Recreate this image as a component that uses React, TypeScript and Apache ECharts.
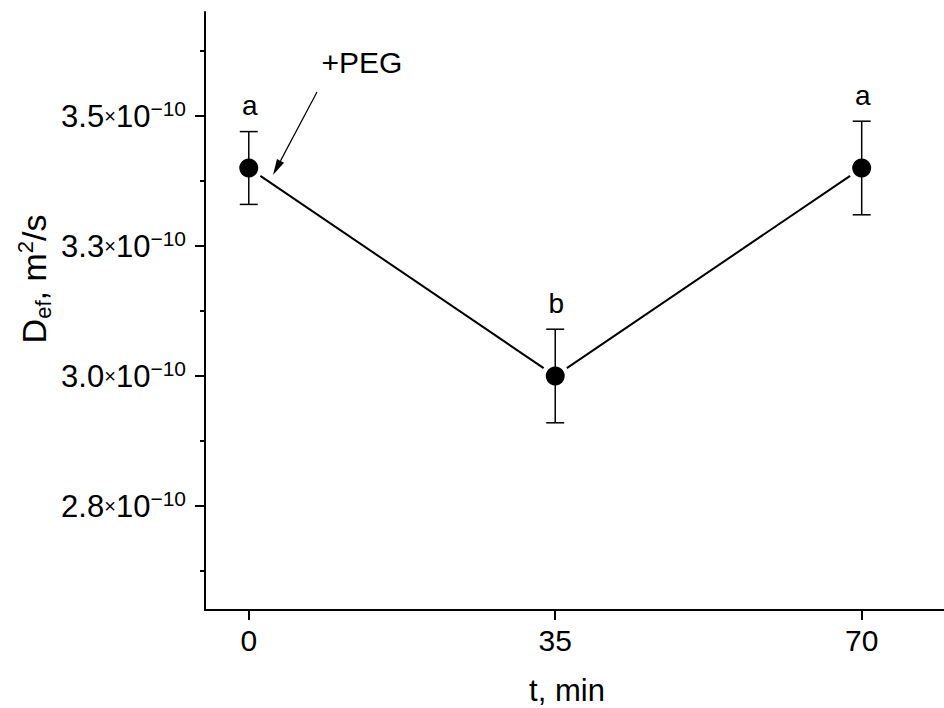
import React, { useEffect, useRef } from "react";
import * as echarts from "echarts";

// Data (D_ef in units of 1e-10 m²/s)
const times = [0, 35, 70];
const dValues = [3.4, 3.0, 3.4];
const dErrors = [0.07, 0.09, 0.09];
const groupLabels = ["a", "b", "a"];
const xTicks = [0, 35, 70];
const yMajorTicks = [2.75, 3.0, 3.25, 3.5];
const yMinorTicks = [2.625, 2.875, 3.125, 3.375, 3.625];

const FONT = "'Liberation Sans', Arial, sans-serif";

export default function App() {
  const ref = useRef<HTMLDivElement>(null);

  useEffect(() => {
    document.body.style.margin = "0";
    const chart = echarts.init(ref.current!, null, { renderer: "svg" });

    const points = times.map((t, i) => [t, dValues[i]]);
    const errData = times.map((t, i) => [t, dValues[i], dErrors[i]]);
    const segData = times.slice(0, -1).map((t, i) => [t, dValues[i], times[i + 1], dValues[i + 1]]);

    // arrow annotation
    const aStart = [317, 92];
    const aTip = [273, 175];
    const dx = aTip[0] - aStart[0];
    const dy = aTip[1] - aStart[1];
    const len = Math.hypot(dx, dy);
    const ux = dx / len, uy = dy / len;
    const headLen = 16, headHalf = 4;
    const base = [aTip[0] - ux * headLen, aTip[1] - uy * headLen];
    const px = -uy * headHalf, py = ux * headHalf;

    chart.setOption({
      animation: false,
      backgroundColor: "#ffffff",
      grid: { left: 205, right: 0, top: 12, bottom: 98 },
      xAxis: {
        type: "value",
        min: -5,
        max: 79.4,
        axisLine: { show: true, onZero: false, lineStyle: { color: "#000", width: 2 } },
        axisTick: { show: true, inside: false, length: 10, customValues: xTicks, lineStyle: { color: "#000", width: 2 } },
        axisLabel: { customValues: xTicks, margin: 15, fontSize: 30, color: "#000", fontFamily: FONT },
        splitLine: { show: false },
      },
      yAxis: [
        {
          type: "value",
          position: "left",
          min: 2.55,
          max: 3.7,
          axisLine: { show: true, onZero: false, lineStyle: { color: "#000", width: 2 } },
          axisTick: { show: true, inside: false, length: 10, customValues: yMajorTicks, lineStyle: { color: "#000", width: 2 } },
          axisLabel: {
            customValues: yMajorTicks,
            margin: 19,
            formatter: (v: number) => `{m|${v.toFixed(1)}}{x|×}{m|10}{s|−10}`,
            rich: {
              m: { fontSize: 31, fontFamily: FONT, color: "#000", lineHeight: 36 },
              x: { fontSize: 20, fontFamily: FONT, color: "#000", lineHeight: 36 },
              s: { fontSize: 21, fontFamily: FONT, color: "#000", lineHeight: 21, verticalAlign: "top" },
            },
          },
          splitLine: { show: false },
        },
        {
          type: "value",
          position: "left",
          min: 2.55,
          max: 3.7,
          axisLine: { show: false, onZero: false },
          axisTick: { show: true, inside: false, length: 5, customValues: yMinorTicks, lineStyle: { color: "#000", width: 2 } },
          axisLabel: { show: false },
          splitLine: { show: false },
        },
      ],
      graphic: [
        {
          type: "text",
          x: 34,
          y: 279,
          rotation: Math.PI / 2,
          style: {
            text: "{d|D}{sub|ef}{d|, m}{sup|2}{d|/s}",
            align: "center",
            verticalAlign: "middle",
            rich: {
              d: { fontSize: 34, fontFamily: FONT, fill: "#000", lineHeight: 40 },
              sub: { fontSize: 22, fontFamily: FONT, fill: "#000", lineHeight: 22, verticalAlign: "bottom" },
              sup: { fontSize: 22, fontFamily: FONT, fill: "#000", lineHeight: 22, verticalAlign: "top" },
            },
          },
        },
        {
          type: "text",
          x: 567,
          y: 690,
          style: { text: "t, min", fontSize: 31, fontFamily: FONT, fill: "#000", align: "center", verticalAlign: "middle" },
        },
        {
          type: "text",
          x: 362,
          y: 62,
          style: { text: "+PEG", fontSize: 30, fontFamily: FONT, fill: "#000", align: "center", verticalAlign: "middle" },
        },
        {
          type: "line",
          shape: { x1: aStart[0], y1: aStart[1], x2: base[0], y2: base[1] },
          style: { stroke: "#000", lineWidth: 1.2 },
        },
        {
          type: "polygon",
          shape: { points: [[aTip[0], aTip[1]], [base[0] + px, base[1] + py], [base[0] - px, base[1] - py]] },
          style: { fill: "#000" },
        },
      ],
      series: [
        {
          type: "custom",
          name: "connect",
          data: segData,
          encode: { x: [0, 2], y: [1, 3] },
          z: 2,
          renderItem: (params: any, api: any) => {
            const p0 = api.coord([api.value(0), api.value(1)]);
            const p1 = api.coord([api.value(2), api.value(3)]);
            const ddx = p1[0] - p0[0];
            const ddy = p1[1] - p0[1];
            const l = Math.hypot(ddx, ddy);
            const gap = 14;
            const gx = (ddx / l) * gap, gy = (ddy / l) * gap;
            return {
              type: "line",
              shape: { x1: p0[0] + gx, y1: p0[1] + gy, x2: p1[0] - gx, y2: p1[1] - gy },
              style: { stroke: "#000", lineWidth: 2 },
            };
          },
        },
        {
          type: "custom",
          name: "errors",
          data: errData,
          encode: { x: 0, y: 1 },
          z: 3,
          renderItem: (params: any, api: any) => {
            const x = api.value(0);
            const y = api.value(1);
            const e = api.value(2);
            const top = api.coord([x, y + e]);
            const bot = api.coord([x, y - e]);
            const cw = 9;
            const st = { stroke: "#000", lineWidth: 1.5 };
            return {
              type: "group",
              children: [
                { type: "line", shape: { x1: top[0], y1: top[1], x2: bot[0], y2: bot[1] }, style: st },
                { type: "line", shape: { x1: top[0] - cw, y1: top[1], x2: top[0] + cw, y2: top[1] }, style: st },
                { type: "line", shape: { x1: bot[0] - cw, y1: bot[1], x2: bot[0] + cw, y2: bot[1] }, style: st },
                {
                  type: "text",
                  style: {
                    text: groupLabels[params.dataIndex],
                    x: top[0] + 1,
                    y: top[1] - 26,
                    fontSize: 28,
                    fontFamily: FONT,
                    fill: "#000",
                    align: "center",
                    verticalAlign: "middle",
                  },
                },
              ],
            };
          },
        },
        {
          type: "scatter",
          name: "D_ef",
          data: points,
          symbol: "circle",
          symbolSize: 19,
          itemStyle: { color: "#000", opacity: 1 },
          z: 4,
        },
      ],
    });

    return () => chart.dispose();
  }, []);

  return <div ref={ref} style={{ width: 944, height: 708 }} />;
}
